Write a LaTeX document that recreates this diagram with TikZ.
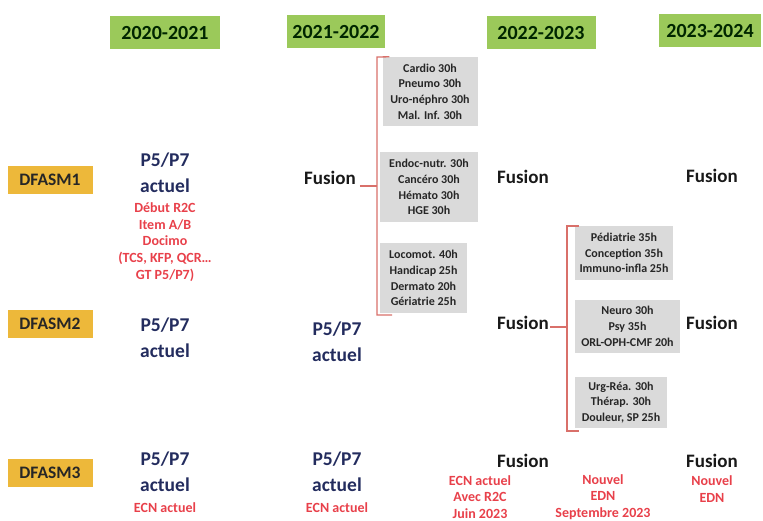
\documentclass[tikz,border=0pt]{standalone}
\usepackage{fontspec}
\setmainfont{Carlito}
\definecolor{hgreen}{HTML}{9BC95A}
\definecolor{dgold}{HTML}{EDB83A}
\definecolor{gbox}{HTML}{DADADA}
\definecolor{rtext}{HTML}{E8404A}
\definecolor{ntext}{HTML}{232C5E}
\definecolor{brk}{HTML}{D9706A}
\begin{document}
\begin{tikzpicture}[x=1pt,y=-1pt,
  hdr/.style={fill=hgreen,inner sep=0pt,minimum height=33pt,font=\fontsize{20}{22}\selectfont\bfseries,text=black!85!green},
  dfa/.style={fill=dgold,inner sep=0pt,minimum width=85pt,minimum height=28pt,font=\fontsize{17.5}{20}\selectfont\bfseries,text=black!85},
  pp/.style={align=center,inner sep=0pt,font=\fontsize{19.5}{26}\selectfont\bfseries,text=ntext},
  red/.style={align=center,inner sep=0pt,font=\fontsize{14}{16.7}\selectfont\bfseries,text=rtext},
  fus/.style={inner sep=0pt,font=\fontsize{19}{22}\selectfont\bfseries,text=black!90},
  gb/.style={fill=gbox,align=center,inner sep=0pt,font=\fontsize{12}{15.7}\selectfont\bfseries,text=black!85},
  br/.style={draw=brk,line width=1.3pt}
]
\useasboundingbox (0,0) rectangle (763,521);
% headers
\node[hdr,minimum width=110pt] (h1) at (165,33) {2020-2021};
\node[hdr,minimum width=98pt] (h2) at (336,32) {2021-2022};
\node[hdr,minimum width=109pt] (h3) at (541,33) {2022-2023};
\node[hdr,minimum width=102pt] (h4) at (710,31) {2023-2024};
% row labels
\node[dfa] (d1) at (50,180) {DFASM1};
\node[dfa] (d2) at (50,324) {DFASM2};
\node[dfa] (d3) at (50,473) {DFASM3};
% column 1
\node[pp] (c1r1) at (165,173) {P5/P7\\actuel};
\node[red] (c1red) at (165,242) {Début R2C\\Item A/B\\Docimo\\(TCS, KFP, QCR…\\GT P5/P7)};
\node[pp] (c1r2) at (165,338) {P5/P7\\actuel};
\node[pp] (c1r3) at (165,472) {P5/P7\\actuel};
\node[red] (c1ecn) at (165,508) {ECN actuel};
% column 2
\node[fus] (f1) at (330,178) {Fusion};
\node[pp] (c2r2) at (337,342) {P5/P7\\actuel};
\node[pp] (c2r3) at (337,472) {P5/P7\\actuel};
\node[red] (c2ecn) at (337,508) {ECN actuel};
\node[gb,minimum width=95pt,minimum height=69pt] (g1) at (430,91.5) {Cardio 30h\\Pneumo 30h\\Uro-néphro 30h\\Mal. Inf. 30h};
\node[gb,minimum width=98pt,minimum height=70pt] (g2) at (429,187) {Endoc-nutr. 30h\\Cancéro 30h\\Hémato 30h\\HGE 30h};
\node[gb,minimum width=87pt,minimum height=70pt] (g3) at (423.5,278) {Locomot. 40h\\Handicap 25h\\Dermato 20h\\Gériatrie 25h};
\coordinate (b1t) at (377,57);
\coordinate (b1b) at (377,315);
\coordinate (b1m) at (377,186);
\draw[br] (g1.north west) ++(7,0) -- (b1t) -- (b1b) -- ++(15,0);
\draw[br] (f1.east) ++(4,8) -- (b1m);
% column 3
\node[fus] (f2) at (523,177) {Fusion};
\node[fus] (f3) at (523,323) {Fusion};
\node[fus] (f4) at (523,461) {Fusion};
\node[red] (c3a) at (480,497) {ECN actuel\\Avec R2C\\Juin 2023};
\node[red] (c3b) at (603,497) {Nouvel\\EDN\\Septembre 2023};
\node[gb,minimum width=98pt,minimum height=54pt] (g4) at (624,253) {Pédiatrie 35h\\Conception 35h\\Immuno-infla 25h};
\node[gb,minimum width=105pt,minimum height=53pt] (g5) at (627.5,326.5) {Neuro 30h\\Psy 35h\\ORL-OPH-CMF 20h};
\node[gb,minimum width=92pt,minimum height=51pt] (g6) at (621,402.5) {Urg-Réa. 30h\\Thérap. 30h\\Douleur, SP 25h};
\coordinate (b2t) at (567,226);
\coordinate (b2b) at (567,431);
\coordinate (b2m) at (567,327);
\draw[br] (b2t) ++(12,0) -- (b2t) -- (b2b) -- ++(12,0);
\draw[br] (f3.east) ++(1,4) -- (b2m);
% column 4
\node[fus] (f5) at (712,176) {Fusion};
\node[fus] (f6) at (712,323) {Fusion};
\node[fus] (f7) at (712,461) {Fusion};
\node[red] (c4) at (712,489) {Nouvel\\EDN};
\end{tikzpicture}
\end{document}
